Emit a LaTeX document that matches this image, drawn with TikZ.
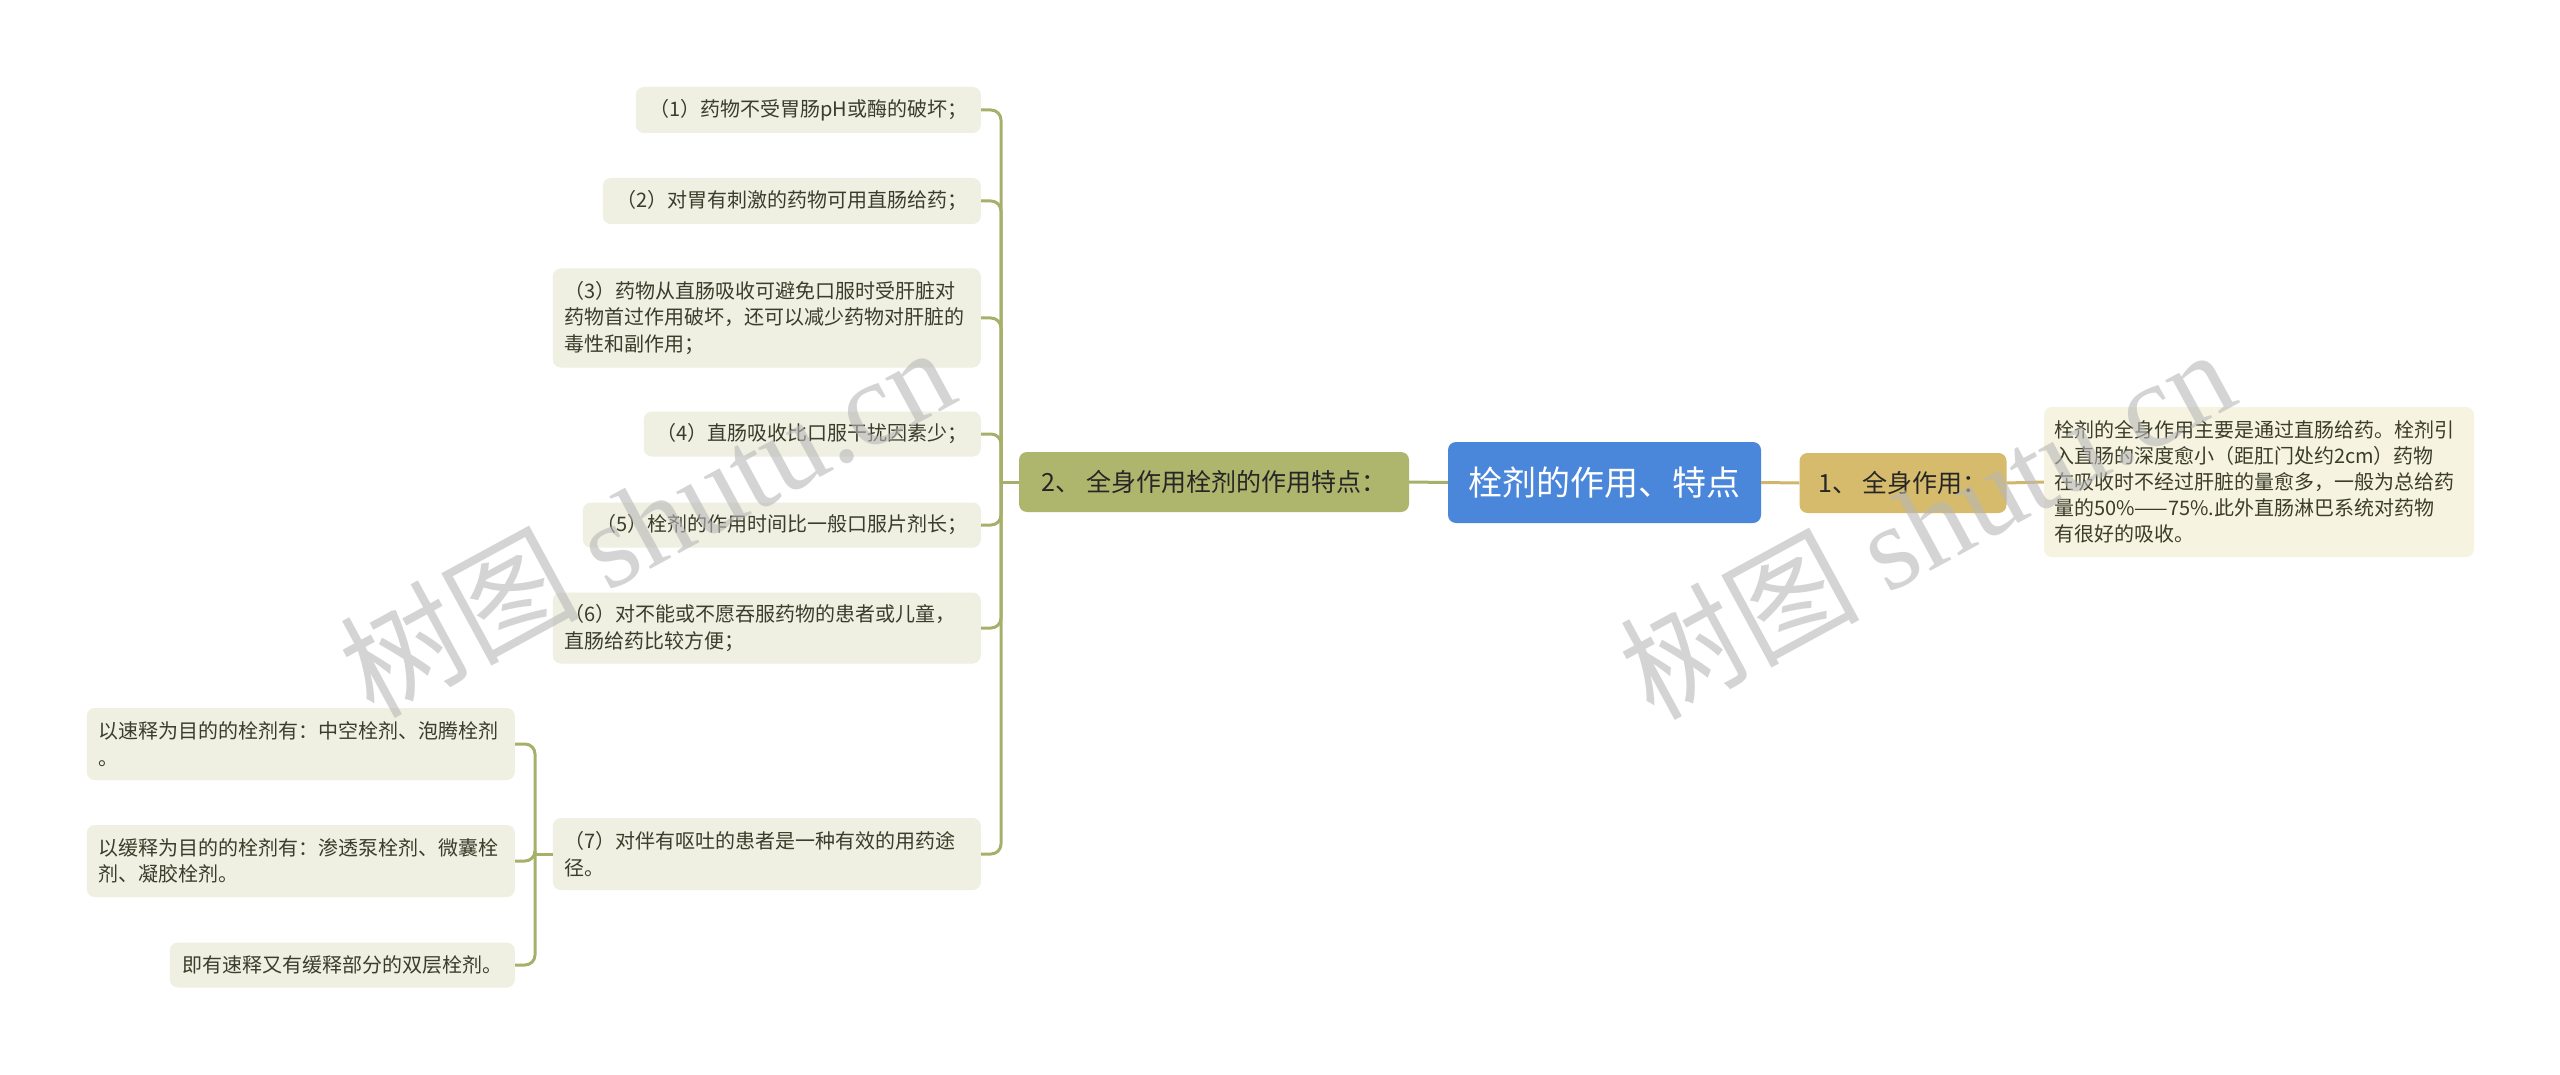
\documentclass[tikz,border=0pt]{standalone}
\usepackage{fontspec}
\setmainfont{Noto Sans CJK SC}
\newfontfamily\wmserif{Liberation Serif}
\usetikzlibrary{calc}
\definecolor{rootblue}{HTML}{4A86DA}
\definecolor{olivenode}{HTML}{AEB66D}
\definecolor{tannode}{HTML}{D5BB6B}
\definecolor{leaffill}{HTML}{EFEFE2}
\definecolor{descfill}{HTML}{F6F3E1}
\definecolor{oliveline}{HTML}{A7B06B}
\definecolor{tanline}{HTML}{CFB66C}
\definecolor{leaftext}{HTML}{3C3C2A}
\definecolor{wmgray}{HTML}{B8B8B8}
\tikzset{
  x=1pt, y=-1pt,
  leafbox/.style={fill=leaffill, rounded corners=8pt, inner xsep=12pt, inner ysep=6pt,
    font=\fontsize{20}{26.5}\selectfont, text=leaftext, align=left, anchor=east},
  multibox/.style={leafbox, text width=404pt},
  olink/.style={draw=oliveline, line width=3pt, rounded corners=10pt},
  tlink/.style={draw=tanline, line width=3pt},
  mainbox/.style={rounded corners=8pt, inner sep=10pt, font=\fontsize{25}{30}\selectfont, text=black!85},
  watermark/.style={text=wmgray, opacity=0.6, rotate=28.5, font=\fontsize{120}{130}\selectfont}
}
\begin{document}
\begin{tikzpicture}
\useasboundingbox (0,0) rectangle (2560,1075);
\fill[white] (0,0) rectangle (2560,1075);

% central topics
\node[mainbox, fill=rootblue, text=white, minimum width=313pt, minimum height=81pt,
  font=\fontsize{34}{40}\selectfont] (root) at (1604.5,482.5) {栓剂的作用、特点};
\node[mainbox, fill=olivenode, minimum width=390pt, minimum height=60pt] (n2) at (1214,482) {2、 全身作用栓剂的作用特点：};
\node[mainbox, fill=tannode, minimum width=207pt, minimum height=60pt] (n1) at (1903,483) {1、 全身作用：};
\node[fill=descfill, rounded corners=8pt, inner xsep=10pt, inner ysep=8pt, text width=410pt,
  minimum height=150pt, align=left, text=leaftext, font=\fontsize{20}{26}\selectfont] (desc) at (2259,482)
  {栓剂的全身作用主要是通过直肠给药。栓剂引\\入直肠的深度愈小（距肛门处约2cm）药物\\在吸收时不经过肝脏的量愈多，一般为总给药\\量的50\%——75\%.此外直肠淋巴系统对药物\\有很好的吸收。};

% leaves of node 2
\node[leafbox, minimum width=345pt, minimum height=46pt] (l1) at (981,110) {（1）药物不受胃肠pH或酶的破坏；};
\node[leafbox, minimum width=378pt, minimum height=46pt] (l2) at (981,201) {（2）对胃有刺激的药物可用直肠给药；};
\node[multibox, minimum height=99pt] (l3) at (981,318) {（3）药物从直肠吸收可避免口服时受肝脏对\\药物首过作用破坏，还可以减少药物对肝脏的\\毒性和副作用；};
\node[leafbox, minimum width=337pt, minimum height=45pt] (l4) at (981,434) {（4）直肠吸收比口服干扰因素少；};
\node[leafbox, minimum width=398pt, minimum height=45pt] (l5) at (981,525) {（5）栓剂的作用时间比一般口服片剂长；};
\node[multibox, minimum height=71pt] (l6) at (981,628) {（6）对不能或不愿吞服药物的患者或儿童，\\直肠给药比较方便；};
\node[multibox, minimum height=72pt] (l7) at (981,854) {（7）对伴有呕吐的患者是一种有效的用药途\\径。};

% leaves of (7)
\node[multibox, minimum height=72pt] (s1) at (515,744) {以速释为目的的栓剂有：中空栓剂、泡腾栓剂\\。};
\node[multibox, minimum height=72pt] (s2) at (515,861) {以缓释为目的的栓剂有：渗透泵栓剂、微囊栓\\剂、凝胶栓剂。};
\node[leafbox, minimum width=345pt, minimum height=45pt] (s3) at (515,965) {即有速释又有缓释部分的双层栓剂。};

% connectors
\draw[tlink] (root.east) -- (n1.west);
\draw[tlink] (n1.east) -- (desc.west);
\draw[olink] (root.west) -- (n2.east);

\coordinate (J) at (1001,482);
\draw[olink] (n2.west) -- (J);
\foreach \l in {l1,l2,l3,l4,l5,l6,l7}{
  \draw[olink] (J) |- (\l.east);
}
\coordinate (K) at (535,854);
\draw[olink] (l7.west) -- (K);
\foreach \l in {s1,s2,s3}{
  \draw[olink] (K) |- (\l.east);
}

% watermarks
\node[watermark] (wm1) at (646,520) {树图 {\wmserif shutu.cn}};
\node[watermark] (wm2) at (1926,522) {树图 {\wmserif shutu.cn}};
\end{tikzpicture}
\end{document}
